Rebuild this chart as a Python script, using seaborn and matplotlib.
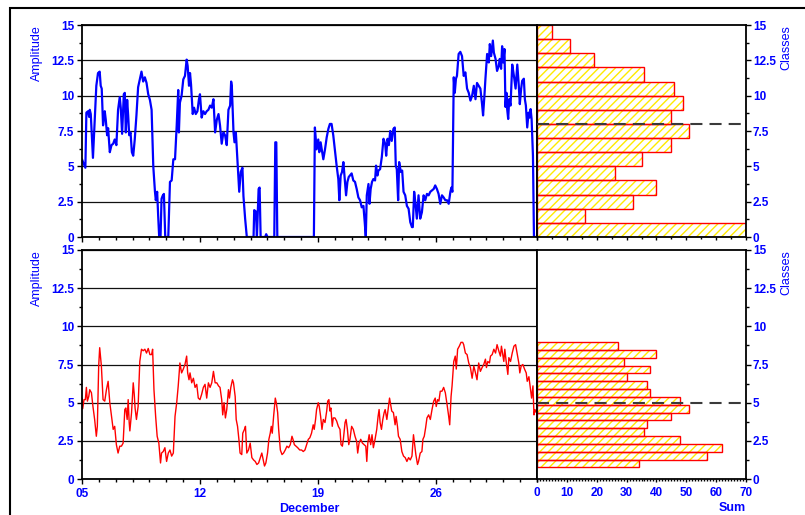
import numpy as np
import pandas as pd
import matplotlib
matplotlib.use("Agg")
import matplotlib.pyplot as plt
import matplotlib.dates as mdates
from matplotlib.ticker import MultipleLocator, FuncFormatter
from matplotlib.patches import Rectangle
import seaborn as sns

# ---------------------------------------------------------------------------
# Data
# ---------------------------------------------------------------------------
series_start = pd.Timestamp("2002-12-05")
series_end = pd.Timestamp("2003-01-01")

# Upper record: time in days after 05 December, amplitude
upper_days = [
    0.00, 0.06, 0.20, 0.26, 0.36, 0.42, 0.46, 0.52, 0.65, 0.85,
    0.95, 1.05, 1.11, 1.17, 1.25, 1.35, 1.41, 1.49, 1.55, 1.65,
    1.75, 1.85, 1.94, 2.04, 2.14, 2.24, 2.30, 2.38, 2.48, 2.54,
    2.60, 2.68, 2.74, 2.80, 2.88, 2.96, 3.04, 3.13, 3.23, 3.33,
    3.43, 3.53, 3.63, 3.73, 3.83, 3.93, 4.03, 4.13, 4.23, 4.33,
    4.38, 4.46, 4.52, 4.58, 4.66, 4.72, 4.78, 4.86, 4.94, 5.12,
    5.22, 5.32, 5.42, 5.52, 5.62, 5.71, 5.75, 5.81, 5.91, 6.01,
    6.11, 6.21, 6.27, 6.35, 6.41, 6.47, 6.57, 6.65, 6.75, 6.85,
    6.94, 7.00, 7.10, 7.20, 7.30, 7.40, 7.50, 7.60, 7.70, 7.80,
    7.90, 8.00, 8.10, 8.19, 8.29, 8.39, 8.49, 8.59, 8.69, 8.79,
    8.85, 8.89, 8.99, 9.05, 9.13, 9.23, 9.33, 9.42, 9.52, 9.58,
    9.68, 9.78, 10.18, 10.22, 10.32, 10.38, 10.48, 10.54, 10.60, 10.87,
    10.93, 11.01, 11.41, 11.47, 11.53, 11.59, 13.76, 13.82, 13.92, 14.02,
    14.08, 14.16, 14.24, 14.32, 14.42, 14.52, 14.62, 14.71, 14.81, 14.91,
    15.01, 15.11, 15.21, 15.27, 15.35, 15.43, 15.51, 15.59, 15.67, 15.75,
    15.83, 15.90, 16.00, 16.10, 16.20, 16.30, 16.40, 16.50, 16.60, 16.70,
    16.78, 16.84, 16.90, 17.00, 17.06, 17.13, 17.21, 17.29, 17.39, 17.45,
    17.53, 17.59, 17.69, 17.79, 17.89, 17.99, 18.05, 18.13, 18.21, 18.29,
    18.38, 18.48, 18.56, 18.62, 18.68, 18.76, 18.82, 18.92, 19.00, 19.08,
    19.18, 19.28, 19.38, 19.48, 19.58, 19.63, 19.71, 19.79, 19.87, 19.97,
    20.07, 20.17, 20.27, 20.37, 20.47, 20.57, 20.67, 20.77, 20.87, 20.96,
    21.06, 21.16, 21.26, 21.36, 21.46, 21.56, 21.66, 21.76, 21.86, 21.92,
    21.98, 22.06, 22.12, 22.19, 22.25, 22.35, 22.45, 22.55, 22.65, 22.75,
    22.85, 22.95, 23.05, 23.15, 23.25, 23.35, 23.44, 23.54, 23.64, 23.74,
    23.80, 23.88, 23.94, 24.04, 24.14, 24.20, 24.28, 24.38, 24.44, 24.54,
    24.63, 24.73, 24.79, 24.87, 24.93, 24.99, 25.07, 25.13, 25.19, 25.23,
    25.29, 25.35, 25.43, 25.53, 25.63, 25.73, 25.83, 25.92, 25.98, 26.06,
    26.12, 26.22, 26.28, 26.34, 26.42, 26.50, 26.56, 26.62, 26.68, 26.76,
    26.82, 26.98,
]
upper_amp = [
    5.5, 5.3, 4.9, 8.8, 8.9, 8.5, 9.0, 8.7, 5.6, 10.7,
    11.6, 11.7, 10.7, 10.5, 7.9, 8.9, 8.3, 7.2, 7.7, 6.0,
    6.5, 6.6, 6.9, 6.5, 9.0, 9.9, 9.15, 7.3, 10.1, 10.2,
    7.4, 9.7, 8.6, 7.2, 7.4, 6.0, 5.75, 6.9, 8.6, 10.6,
    11.15, 11.7, 11.0, 11.3, 10.9, 10.1, 9.7, 9.0, 5.0, 3.2,
    2.6, 3.2, 1.5, 0.0, 0.0, 2.7, 2.9, 3.05, 0.0, 0.0,
    3.9, 4.0, 5.5, 5.5, 7.9, 10.4, 7.4, 9.5, 10.0, 11.15,
    11.4, 12.55, 12.1, 10.7, 11.6, 10.8, 8.7, 9.15, 8.7, 8.9,
    9.75, 10.1, 8.45, 8.9, 8.7, 8.9, 9.0, 9.3, 9.15, 9.75,
    7.4, 8.3, 8.7, 7.9, 6.6, 7.4, 7.2, 6.5, 9.0, 9.3,
    11.0, 10.7, 7.4, 6.7, 7.4, 5.3, 3.2, 4.6, 4.9, 2.9,
    1.3, 0.0, 0.0, 1.9, 1.8, 0.0, 3.4, 3.5, 0.0, 0.0,
    0.2, 0.0, 0.0, 6.7, 6.7, 0.0, 0.0, 7.75, 6.2, 6.9,
    6.0, 6.7, 6.1, 5.5, 6.2, 7.05, 7.65, 8.0, 8.0, 7.2,
    6.1, 5.05, 4.1, 2.6, 4.35, 4.6, 5.3, 4.1, 2.95, 3.9,
    4.25, 4.35, 4.5, 4.0, 3.9, 3.4, 2.8, 2.6, 2.1, 2.2,
    1.0, 0.0, 2.95, 3.75, 2.35, 3.4, 3.9, 4.1, 4.0, 5.05,
    4.35, 4.7, 4.8, 5.65, 6.95, 6.6, 5.75, 6.95, 6.5, 7.5,
    6.8, 7.65, 7.75, 5.05, 4.8, 2.6, 5.3, 4.6, 4.7, 3.2,
    2.95, 2.2, 2.0, 1.05, 0.7, 0.7, 3.2, 2.35, 1.3, 2.95,
    1.3, 1.75, 2.95, 2.6, 3.05, 2.95, 3.2, 3.3, 3.4, 3.65,
    3.4, 3.05, 2.35, 2.95, 2.8, 2.6, 2.6, 2.35, 3.2, 3.5,
    3.2, 11.3, 10.2, 11.2, 11.4, 12.95, 13.1, 12.8, 11.4, 11.65,
    10.5, 10.2, 9.65, 10.0, 10.7, 9.75, 10.9, 10.7, 10.5, 9.4,
    8.6, 10.0, 11.2, 12.95, 12.35, 13.65, 12.8, 13.9, 13.05, 12.6,
    11.75, 12.1, 12.6, 11.9, 13.5, 12.35, 13.3, 9.2, 10.2, 9.05,
    8.35, 9.75, 9.3, 12.2, 11.4, 10.5, 12.2, 10.7, 9.4, 10.5,
    11.05, 11.2, 9.75, 9.3, 7.75, 8.8, 8.45, 9.05, 8.35, 5.75,
    0.0, 0.0,
]

# Lower record: time in days after 05 December, amplitude
lower_days = [
    0.00, 0.04, 0.12, 0.20, 0.26, 0.32, 0.40, 0.46, 0.56, 0.65,
    0.75, 0.85, 0.91, 0.99, 1.05, 1.15, 1.25, 1.35, 1.45, 1.55,
    1.65, 1.75, 1.85, 1.94, 2.04, 2.14, 2.24, 2.34, 2.44, 2.54,
    2.60, 2.68, 2.74, 2.80, 2.84, 2.94, 3.04, 3.10, 3.15, 3.23,
    3.33, 3.43, 3.53, 3.63, 3.73, 3.83, 3.93, 4.03, 4.13, 4.19,
    4.27, 4.37, 4.46, 4.56, 4.66, 4.72, 4.82, 4.92, 5.02, 5.12,
    5.22, 5.32, 5.42, 5.52, 5.62, 5.71, 5.81, 5.91, 6.01, 6.11,
    6.21, 6.27, 6.35, 6.41, 6.51, 6.61, 6.71, 6.81, 6.90, 7.00,
    7.10, 7.20, 7.30, 7.40, 7.50, 7.60, 7.70, 7.80, 7.90, 8.00,
    8.10, 8.19, 8.29, 8.35, 8.43, 8.51, 8.59, 8.69, 8.75, 8.83,
    8.93, 8.99, 9.09, 9.15, 9.23, 9.31, 9.38, 9.48, 9.54, 9.64,
    9.70, 9.78, 9.88, 9.98, 10.08, 10.18, 10.28, 10.38, 10.48, 10.58,
    10.67, 10.77, 10.83, 10.91, 11.01, 11.09, 11.17, 11.23, 11.29, 11.37,
    11.47, 11.53, 11.61, 11.67, 11.77, 11.87, 11.96, 12.06, 12.16, 12.26,
    12.36, 12.46, 12.52, 12.60, 12.70, 12.80, 12.92, 13.03, 13.13, 13.23,
    13.33, 13.43, 13.52, 13.62, 13.72, 13.78, 13.86, 13.92, 14.02, 14.08,
    14.16, 14.24, 14.32, 14.42, 14.52, 14.58, 14.65, 14.71, 14.77, 14.85,
    14.91, 15.01, 15.11, 15.21, 15.31, 15.37, 15.45, 15.51, 15.61, 15.67,
    15.75, 15.83, 15.90, 16.00, 16.10, 16.20, 16.30, 16.36, 16.44, 16.54,
    16.64, 16.74, 16.84, 16.90, 16.96, 17.04, 17.13, 17.21, 17.29, 17.39,
    17.49, 17.57, 17.63, 17.69, 17.77, 17.85, 17.93, 17.99, 18.09, 18.19,
    18.25, 18.33, 18.38, 18.48, 18.58, 18.64, 18.72, 18.78, 18.88, 18.98,
    19.08, 19.18, 19.28, 19.38, 19.48, 19.58, 19.67, 19.73, 19.81, 19.91,
    19.97, 20.07, 20.17, 20.23, 20.31, 20.39, 20.47, 20.57, 20.67, 20.77,
    20.87, 20.96, 21.02, 21.10, 21.18, 21.26, 21.36, 21.46, 21.56, 21.66,
    21.76, 21.82, 21.90, 21.96, 22.06, 22.15, 22.21, 22.29, 22.39, 22.49,
    22.59, 22.65, 22.75, 22.85, 22.95, 23.05, 23.15, 23.25, 23.35, 23.44,
    23.54, 23.64, 23.74, 23.84, 23.94, 24.00, 24.08, 24.18, 24.24, 24.34,
    24.44, 24.54, 24.63, 24.73, 24.83, 24.89, 24.97, 25.03, 25.09, 25.17,
    25.27, 25.33, 25.43, 25.53, 25.63, 25.73, 25.83, 25.92, 25.98, 26.06,
    26.16, 26.26, 26.36, 26.42, 26.52, 26.62, 26.68, 26.76, 26.82, 26.88,
    26.96, 27.00,
]
lower_amp = [
    5.3, 4.6, 5.2, 5.2, 6.0, 5.1, 5.4, 5.85, 5.65, 4.75,
    3.9, 2.8, 3.45, 7.4, 8.6, 7.4, 5.2, 5.1, 5.85, 6.4,
    5.0, 4.1, 3.25, 3.45, 2.25, 1.7, 2.15, 2.15, 2.35, 4.55,
    4.65, 3.9, 5.2, 3.7, 3.15, 4.35, 6.3, 5.55, 4.65, 3.9,
    4.75, 7.7, 8.5, 8.4, 8.5, 8.25, 8.55, 8.15, 8.15, 8.5,
    5.85, 4.1, 2.8, 2.35, 1.05, 1.7, 1.8, 2.05, 1.15, 1.7,
    1.9, 1.5, 1.7, 4.1, 5.0, 6.1, 7.6, 6.95, 7.2, 7.5,
    8.05, 6.95, 6.5, 6.95, 6.3, 6.6, 6.0, 6.2, 5.3, 5.2,
    5.55, 6.0, 6.2, 5.3, 6.3, 6.0, 6.3, 7.05, 6.3, 6.3,
    6.1, 6.0, 5.2, 4.2, 5.0, 4.0, 4.55, 5.85, 5.3, 6.0,
    6.5, 6.3, 5.4, 3.9, 3.45, 2.6, 1.7, 1.6, 3.0, 3.25,
    3.45, 1.7, 1.9, 2.35, 1.4, 1.25, 1.15, 0.95, 1.05, 1.4,
    1.7, 1.15, 0.85, 1.05, 1.7, 2.6, 3.0, 3.45, 3.0, 4.1,
    5.3, 5.0, 4.35, 3.25, 1.9, 1.6, 1.7, 1.9, 2.15, 2.05,
    2.25, 2.8, 2.6, 2.25, 2.15, 2.05, 1.9, 1.9, 1.8, 1.9,
    2.25, 2.6, 2.7, 3.0, 3.55, 3.25, 3.9, 4.55, 5.0, 4.75,
    4.1, 3.25, 3.9, 3.7, 4.45, 5.1, 5.2, 4.45, 4.65, 3.45,
    4.0, 4.0, 3.8, 3.45, 3.25, 2.25, 2.15, 2.6, 3.7, 3.9,
    3.25, 2.25, 2.6, 3.45, 3.25, 2.8, 2.45, 1.7, 2.35, 2.6,
    2.35, 2.25, 2.15, 1.15, 2.35, 2.9, 2.25, 2.9, 2.05, 2.6,
    3.25, 4.1, 4.55, 3.7, 3.25, 3.9, 4.35, 4.55, 3.9, 4.75,
    5.3, 4.75, 4.45, 4.35, 3.55, 4.1, 3.45, 2.8, 2.6, 1.8,
    1.5, 1.4, 1.15, 1.4, 1.25, 1.5, 2.9, 2.35, 1.6, 0.95,
    1.15, 1.7, 1.8, 2.6, 2.8, 3.35, 4.0, 4.2, 3.9, 4.55,
    5.1, 5.3, 4.75, 5.2, 5.1, 5.75, 5.75, 6.0, 5.65, 4.9,
    4.1, 3.55, 5.4, 6.1, 7.7, 8.05, 7.2, 8.5, 8.7, 8.95,
    8.95, 8.8, 8.25, 8.15, 7.6, 7.3, 6.6, 7.4, 6.95, 6.5,
    7.6, 7.05, 7.3, 7.5, 7.85, 7.3, 7.7, 7.6, 8.05, 8.15,
    8.5, 8.25, 8.8, 8.4, 8.05, 8.7, 8.15, 7.7, 8.5, 7.7,
    6.85, 7.95, 7.7, 8.25, 8.7, 8.8, 8.15, 7.6, 6.95, 7.4,
    7.5, 7.2, 6.95, 6.4, 6.7, 5.85, 5.3, 6.1, 4.2, 4.55,
    4.35, 4.55,
]

# Class frequency tables (counts listed from the lowest class upward)
upper_class_edges = [0, 1, 2, 3, 4, 5, 6, 7, 8, 9, 10, 11, 12, 13, 14, 15]
upper_counts = [70, 16, 32, 40, 26, 35, 45, 51, 45, 49, 46, 36, 19, 11, 5]

lower_class_range = (0.76, 8.97)
lower_counts = [34, 57, 62, 48, 36, 37, 45, 51, 48, 38, 37, 30, 38, 29, 40, 27]

# Reference level marked on each class plot
upper_level = 8.0
lower_level = 5.0

assert len(upper_days) == len(upper_amp)
assert len(lower_days) == len(lower_amp)

# ---------------------------------------------------------------------------
# Style
# ---------------------------------------------------------------------------
sns.set_style("ticks")
plt.rcParams["font.family"] = ["Liberation Sans", "DejaVu Sans"]
plt.rcParams["hatch.linewidth"] = 1.0
plt.rcParams["axes.linewidth"] = 1.3

BLUE = "#0000ff"
RED = "#ff0000"
HATCH_YELLOW = "#ffea00"
TICK_SIZE = 8.5
LABEL_SIZE = 9


def series_frame(days, amp):
    return pd.DataFrame({
        "time": series_start + pd.to_timedelta(np.asarray(days), unit="D"),
        "amplitude": amp,
    })


amp_fmt = FuncFormatter(lambda v, p: f"{v:g}")


def bold_ticklabels(ax):
    for lab in ax.get_xticklabels() + ax.get_yticklabels():
        lab.set_fontweight("bold")


def style_series_axes(ax, show_dates):
    ax.set_xlim(series_start, series_end)
    ax.set_ylim(0, 15)
    ax.yaxis.set_major_locator(MultipleLocator(2.5))
    ax.yaxis.set_minor_locator(MultipleLocator(1.25))
    ax.yaxis.set_major_formatter(amp_fmt)
    ax.xaxis.set_major_locator(mdates.DayLocator(bymonthday=[5, 12, 19, 26]))
    ax.xaxis.set_minor_locator(mdates.DayLocator())
    ax.xaxis.set_major_formatter(mdates.DateFormatter("%d"))
    ax.grid(axis="y", which="major", color="#111111", linewidth=0.9)
    ax.set_axisbelow(True)
    ax.tick_params(axis="both", which="both", direction="out", color="black",
                   labelcolor=BLUE, labelsize=TICK_SIZE, width=1.0)
    ax.tick_params(axis="y", which="major", length=3.5, pad=2)
    ax.tick_params(axis="y", which="minor", length=2)
    ax.tick_params(axis="x", which="major", length=3.5, pad=3)
    ax.tick_params(axis="x", which="minor", length=2)
    ax.tick_params(axis="x", labelbottom=show_dates)
    for side in ("top", "right", "left", "bottom"):
        ax.spines[side].set_visible(True)
        ax.spines[side].set_color("black")
    ax.set_ylabel("Amplitude", color=BLUE, fontsize=LABEL_SIZE, fontweight="normal", loc="top")
    ax.yaxis.set_label_coords(-0.086, 1.0)
    ax.set_xlabel("")
    bold_ticklabels(ax)


def style_class_axes(ax, show_sums, minor_step):
    ax.set_xlim(0, 70)
    ax.set_ylim(0, 15)
    ax.yaxis.tick_right()
    ax.yaxis.set_label_position("right")
    ax.yaxis.set_major_locator(MultipleLocator(2.5))
    ax.yaxis.set_minor_locator(MultipleLocator(1.25))
    ax.yaxis.set_major_formatter(amp_fmt)
    ax.xaxis.set_major_locator(MultipleLocator(10))
    ax.xaxis.set_minor_locator(MultipleLocator(minor_step))
    ax.tick_params(axis="both", which="both", direction="out", color="black",
                   labelcolor=BLUE, labelsize=TICK_SIZE, width=1.0)
    ax.tick_params(axis="y", which="major", length=3.5, pad=1.5)
    ax.tick_params(axis="y", which="minor", length=2)
    ax.tick_params(axis="x", which="major", length=2.5, pad=3.5)
    ax.tick_params(axis="x", which="minor", length=1.5)
    ax.tick_params(axis="x", labelbottom=show_sums)
    for side in ("top", "right", "left", "bottom"):
        ax.spines[side].set_visible(True)
        ax.spines[side].set_color("black")
    ax.set_ylabel("Classes", color=BLUE, fontsize=LABEL_SIZE, fontweight="normal", loc="top")
    ax.yaxis.set_label_coords(1.163, 1.0)
    ax.set_xlabel("")
    bold_ticklabels(ax)


def draw_classes(ax, edges, counts, level):
    edges = np.asarray(edges, dtype=float)
    table = pd.DataFrame({
        "center": (edges[:-1] + edges[1:]) / 2,
        "count": counts,
    })
    # hatched fill first, then the red outline of every class bar
    sns.barplot(data=table, x="count", y="center", orient="h", native_scale=True,
                width=1.0, color="white", saturation=1, errorbar=None, ax=ax,
                edgecolor=HATCH_YELLOW, hatch="////", linewidth=0)
    sns.barplot(data=table, x="count", y="center", orient="h", native_scale=True,
                width=1.0, color=RED, saturation=1, errorbar=None, ax=ax,
                fill=False, linewidth=1.0)
    ax.axhline(level, color="#3a3a3a", linewidth=1.5, linestyle=(0, (5.8, 3.4)), zorder=5)


# ---------------------------------------------------------------------------
# Figure
# ---------------------------------------------------------------------------
W, H = 805, 515
fig = plt.figure(figsize=(W / 100, H / 100), dpi=100)

ax_up = fig.add_axes([82 / W, 1 - 237 / H, 455 / W, 212 / H])
ax_up_cls = fig.add_axes([537 / W, 1 - 237 / H, 209 / W, 212 / H])
ax_lo = fig.add_axes([82 / W, 1 - 479 / H, 455 / W, 229 / H])
ax_lo_cls = fig.add_axes([537 / W, 1 - 479 / H, 209 / W, 229 / H])

sns.lineplot(data=series_frame(upper_days, upper_amp), x="time", y="amplitude",
             ax=ax_up, color=BLUE, linewidth=1.6, estimator=None)
sns.lineplot(data=series_frame(lower_days, lower_amp), x="time", y="amplitude",
             ax=ax_lo, color=RED, linewidth=1.0, estimator=None)

style_series_axes(ax_up, show_dates=False)
style_series_axes(ax_lo, show_dates=True)
ax_lo.set_xlabel("December", color=BLUE, fontsize=LABEL_SIZE, fontweight="bold", labelpad=2)

lower_class_edges = np.linspace(lower_class_range[0], lower_class_range[1], len(lower_counts) + 1)
draw_classes(ax_up_cls, upper_class_edges, upper_counts, upper_level)
draw_classes(ax_lo_cls, lower_class_edges, lower_counts, lower_level)

style_class_axes(ax_up_cls, show_sums=False, minor_step=5)
style_class_axes(ax_lo_cls, show_sums=True, minor_step=1)
ax_lo_cls.set_xlabel("Sum", color=BLUE, fontsize=LABEL_SIZE, fontweight="bold", loc="right", labelpad=2)

# outer frame around the whole plot
fig.add_artist(Rectangle((10 / W, -0.05), 1.0, 1.05 - 8 / H, transform=fig.transFigure,
                         fill=False, edgecolor="black", linewidth=1.5))

fig.savefig("out.png", dpi=100, facecolor="white")
